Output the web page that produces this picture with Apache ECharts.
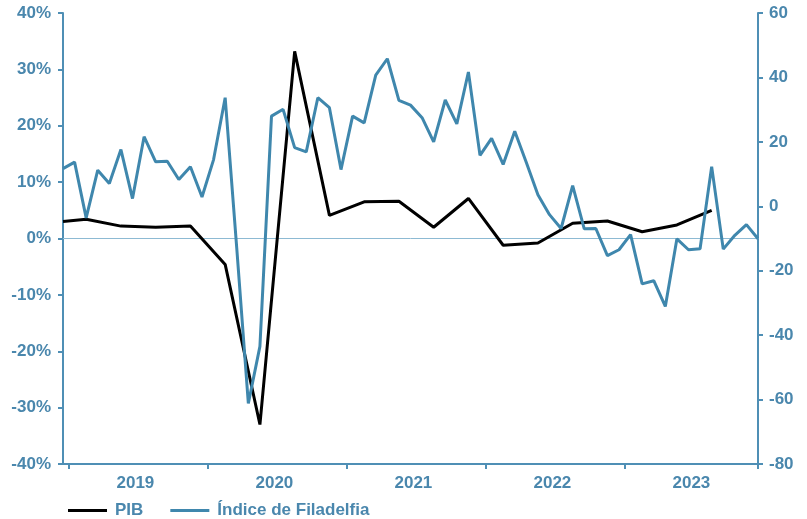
<!DOCTYPE html>
<html>
<head>
<meta charset="utf-8">
<script src="https://cdn.jsdelivr.net/npm/echarts@6/dist/echarts.min.js"></script>
<style>
  html, body { margin: 0; padding: 0; background: #fff; }
  #main { width: 807px; height: 519px; }
</style>
</head>
<body>
<div id="main"></div>
<script>
// Months on the axis: Dec 2018 .. Dec 2023
var months = [];
for (var y = 2018; y <= 2023; y++) {
    for (var m = 1; m <= 12; m++) {
        if (y === 2018 && m < 12) continue;
        months.push(y + '-' + (m < 10 ? '0' + m : m));
    }
}

// Philadelphia Fed index, monthly (right axis)
var filadelfia = [
    11.7, 13.7, -3.6, 11.2, 7.1, 17.6, 2.4, 21.6, 13.8, 14.0, 8.3, 12.3, 2.9,
    14.5, 33.7, -13.0, -61.2, -43.5, 28.0, 30.1, 18.2, 16.9, 33.7, 30.6, 11.4,
    28.0, 25.9, 40.7, 45.8, 32.9, 31.4, 27.5, 20.0, 33.0, 25.6, 41.7, 15.8,
    21.1, 13.0, 23.3, 13.6, 3.6, -2.6, -6.9, 6.4, -7.0, -6.9, -15.3, -13.5,
    -8.8, -24.1, -23.1, -31.1, -10.1, -13.5, -13.2, 12.3, -13.3, -9.0, -5.7, -10.1
];

// GDP (annualised, %), placed at the middle month of each quarter (left axis)
var pibMonths = [
    '2018-12', '2019-02', '2019-05', '2019-08', '2019-11', '2020-02', '2020-05',
    '2020-08', '2020-11', '2021-02', '2021-05', '2021-08', '2021-11', '2022-02',
    '2022-05', '2022-08', '2022-11', '2023-02', '2023-05', '2023-08'
];
var pib = [
    3.0, 3.4, 2.2, 2.0, 2.2, -4.6, -33.0, 33.2, 4.1, 6.5, 6.6, 2.0, 7.1,
    -1.2, -0.8, 2.7, 3.1, 1.2, 2.4, 5.0
];

var years = ['2019', '2020', '2021', '2022', '2023'];

// half-month slots, only used for year ticks and labels
var halfMonths = [];
for (var i = 0; i < 120; i++) halfMonths.push('h' + i);

var pibData = pibMonths.map(function (mo, k) { return [mo, pib[k]]; });

var axisColor = '#4f8fb5';
var textColor = '#4a87ad';
var lineBlue = '#3f87ad';
var font = 'Liberation Sans, Arial, sans-serif';
var fontSize = 17;

var chart = echarts.init(document.getElementById('main'));
var option = {
    animation: false,
    grid: { left: 63, right: 49, top: 13, bottom: 55 },
    legend: {
        left: 63,
        top: 497,
        icon: 'rect',
        itemWidth: 39,
        itemHeight: 3,
        itemGap: 27,
        data: ['PIB', 'Índice de Filadelfia'],
        textStyle: {
            color: textColor, fontFamily: font, fontSize: fontSize, fontWeight: 'bold',
            padding: [0, 0, 0, 3]
        }
    },
    xAxis: [{
        type: 'category',
        data: months,
        boundaryGap: false,
        position: 'bottom',
        axisLine: { onZero: true, lineStyle: { color: '#8dbad3', width: 1 } },
        axisTick: { show: false },
        axisLabel: { show: false },
        splitLine: { show: false }
    }, {
        type: 'category',
        data: halfMonths,
        boundaryGap: true,
        position: 'bottom',
        axisLine: { show: true, onZero: false, lineStyle: { color: axisColor, width: 2 } },
        axisTick: {
            show: true,
            inside: false,
            length: 5,
            lineStyle: { color: axisColor, width: 2 },
            interval: function (idx) { return idx % 24 === 1; }
        },
        axisLabel: {
            interval: function (idx) { return idx % 24 === 12; },
            formatter: function (val, idx) { return years[Math.round((idx - 12) / 24)]; },
            margin: 11,
            color: textColor, fontFamily: font, fontSize: fontSize, fontWeight: 'bold'
        },
        splitLine: { show: false }
    }],
    yAxis: [{
        type: 'value',
        position: 'left',
        min: -40,
        max: 40,
        interval: 10,
        axisLine: { show: true, lineStyle: { color: axisColor, width: 2 } },
        axisTick: { show: true, length: 5, lineStyle: { color: axisColor, width: 2 } },
        axisLabel: {
            formatter: '{value}%',
            margin: 12,
            color: textColor, fontFamily: font, fontSize: fontSize, fontWeight: 'bold'
        },
        splitLine: { show: false }
    }, {
        type: 'value',
        position: 'right',
        min: -80,
        max: 60,
        interval: 20,
        axisLine: { show: true, lineStyle: { color: axisColor, width: 2 } },
        axisTick: { show: true, length: 5, lineStyle: { color: axisColor, width: 2 } },
        axisLabel: {
            margin: 11,
            color: textColor, fontFamily: font, fontSize: fontSize, fontWeight: 'bold'
        },
        splitLine: { show: false }
    }],
    series: [{
        name: 'PIB',
        type: 'line',
        xAxisIndex: 0,
        yAxisIndex: 0,
        data: pibData,
        showSymbol: false,
        symbol: 'none',
        connectNulls: true,
        color: '#000000',
        lineStyle: { color: '#000000', width: 3 },
        z: 3
    }, {
        name: 'Índice de Filadelfia',
        type: 'line',
        xAxisIndex: 0,
        yAxisIndex: 1,
        data: filadelfia,
        showSymbol: false,
        symbol: 'none',
        color: lineBlue,
        lineStyle: { color: lineBlue, width: 3 },
        z: 4
    }]
};
chart.setOption(option);
</script>
</body>
</html>
